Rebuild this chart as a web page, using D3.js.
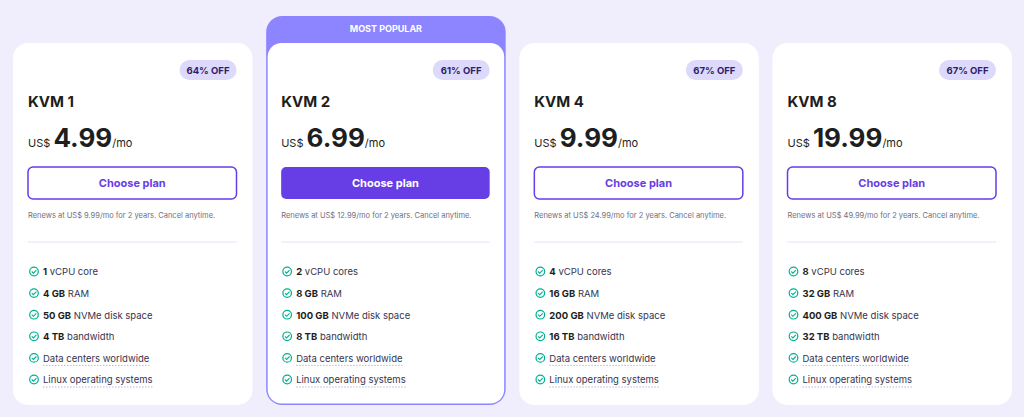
<!DOCTYPE html><html><head><meta charset="utf-8">
<script src="https://cdn.jsdelivr.net/npm/d3@7"></script>
<style>body{margin:0;background:#f0eefc;font-family:Inter,"DejaVu Sans",sans-serif}</style></head><body>
<svg id="c" width="1024" height="417"></svg>
<script>
const plans=["KVM 1","KVM 2","KVM 4","KVM 8"];
const discounts=["64% OFF","61% OFF","67% OFF","67% OFF"];
const prices=["4.99","6.99","9.99","19.99"];
const renewals=["9.99","12.99","24.99","49.99"];
const cpu=["1","2","4","8"];
const ram=["4 GB","8 GB","16 GB","32 GB"];
const disk=["50 GB","100 GB","200 GB","400 GB"];
const bw=["4 TB","8 TB","16 TB","32 TB"];
const popular=1;
const svg=d3.select("#c");
const W=1024,H=417;
svg.append("rect").attr("width",W).attr("height",H).attr("fill","#f0eefc");
const x=d3.scaleBand().domain(plans).range([13,1012]).paddingInner(0.054);
const bwid=x.bandwidth();
const rows=d3.range(6);
const y=d3.scaleLinear().domain([0,5]).range([272,380]);
const purple="#673de6";
plans.forEach((p,i)=>{
 const g=svg.append("g").attr("transform",`translate(${x(p)},0)`);
 if(i===popular){
  g.append("rect").attr("x",0).attr("y",16).attr("width",bwid).attr("height",389).attr("rx",16).attr("fill","#8c85ff");
  g.append("text").attr("x",bwid/2).attr("y",32).attr("text-anchor","middle").attr("fill","#fff").attr("font-size",9).attr("font-weight",700).text("MOST POPULAR");
  g.append("rect").attr("x",1.5).attr("y",43).attr("width",bwid-3).attr("height",360.5).attr("rx",14).attr("fill","#fff");
 } else {
  g.append("rect").attr("x",0).attr("y",43).attr("width",bwid).attr("height",362).attr("rx",15).attr("fill","#fff");
 }
 g.append("rect").attr("x",bwid-73).attr("y",60).attr("width",57).attr("height",20).attr("rx",10).attr("fill","#dcd9fb");
 g.append("text").attr("x",bwid-44.5).attr("y",74).attr("text-anchor","middle").attr("font-size",9.5).attr("font-weight",700).attr("fill","#2f1c6a").text(discounts[i]);
 g.append("text").attr("x",15).attr("y",107).attr("font-size",15).attr("font-weight",700).attr("fill","#1d1e20").text(p);
 const t=g.append("text").attr("x",15).attr("y",147).attr("fill","#1d1e20");
 t.append("tspan").attr("font-size",11).text("US$ ");
 t.append("tspan").attr("font-size",26).attr("font-weight",700).text(prices[i]);
 t.append("tspan").attr("font-size",11).text("/mo");
 const pop=i===popular;
 g.append("rect").attr("x",15).attr("y",pop?167:167).attr("width",bwid-31).attr("height",32).attr("rx",5)
  .attr("fill",pop?purple:"#fff").attr("stroke",pop?"none":purple).attr("stroke-width",1.5);
 g.append("text").attr("x",15+(bwid-31)/2).attr("y",187).attr("text-anchor","middle").attr("font-size",11).attr("font-weight",700).attr("fill",pop?"#fff":purple).text("Choose plan");
 g.append("text").attr("x",15).attr("y",218).attr("font-size",7.5).attr("fill","#6d7081").text(`Renews at US$ ${renewals[i]}/mo for 2 years. Cancel anytime.`);
 g.append("line").attr("x1",15).attr("x2",bwid-16).attr("y1",242).attr("y2",242).attr("stroke","#e3e1fb");
 const feats=[[cpu[i]," vCPU core"+(cpu[i]==="1"?"":"s")],[ram[i]," RAM"],[disk[i]," NVMe disk space"],[bw[i]," bandwidth"],["","Data centers worldwide"],["","Linux operating systems"]];
 feats.forEach((f,k)=>{
  const yy=y(rows[k]);
  g.append("circle").attr("cx",21).attr("cy",yy-0.5).attr("r",4.3).attr("fill","none").attr("stroke","#00b090").attr("stroke-width",1.2);
  g.append("path").attr("d",`M${18.8},${yy-0.5} l1.6,1.6 l3,-3`).attr("fill","none").attr("stroke","#00b090").attr("stroke-width",1.1);
  const tx=g.append("text").attr("x",30).attr("y",yy+3.3).attr("font-size",9.5).attr("fill","#36344d");
  if(f[0]) tx.append("tspan").attr("font-weight",700).attr("fill","#1d1e20").text(f[0]);
  tx.append("tspan").text(f[1]);
  if(!f[0]){
   const len=tx.node().getComputedTextLength();
   g.append("line").attr("x1",30).attr("x2",30+len).attr("y1",yy+7).attr("y2",yy+7).attr("stroke","#b9b7d6").attr("stroke-dasharray","1.5,1.5");
  }
 });
});
</script></body></html>
